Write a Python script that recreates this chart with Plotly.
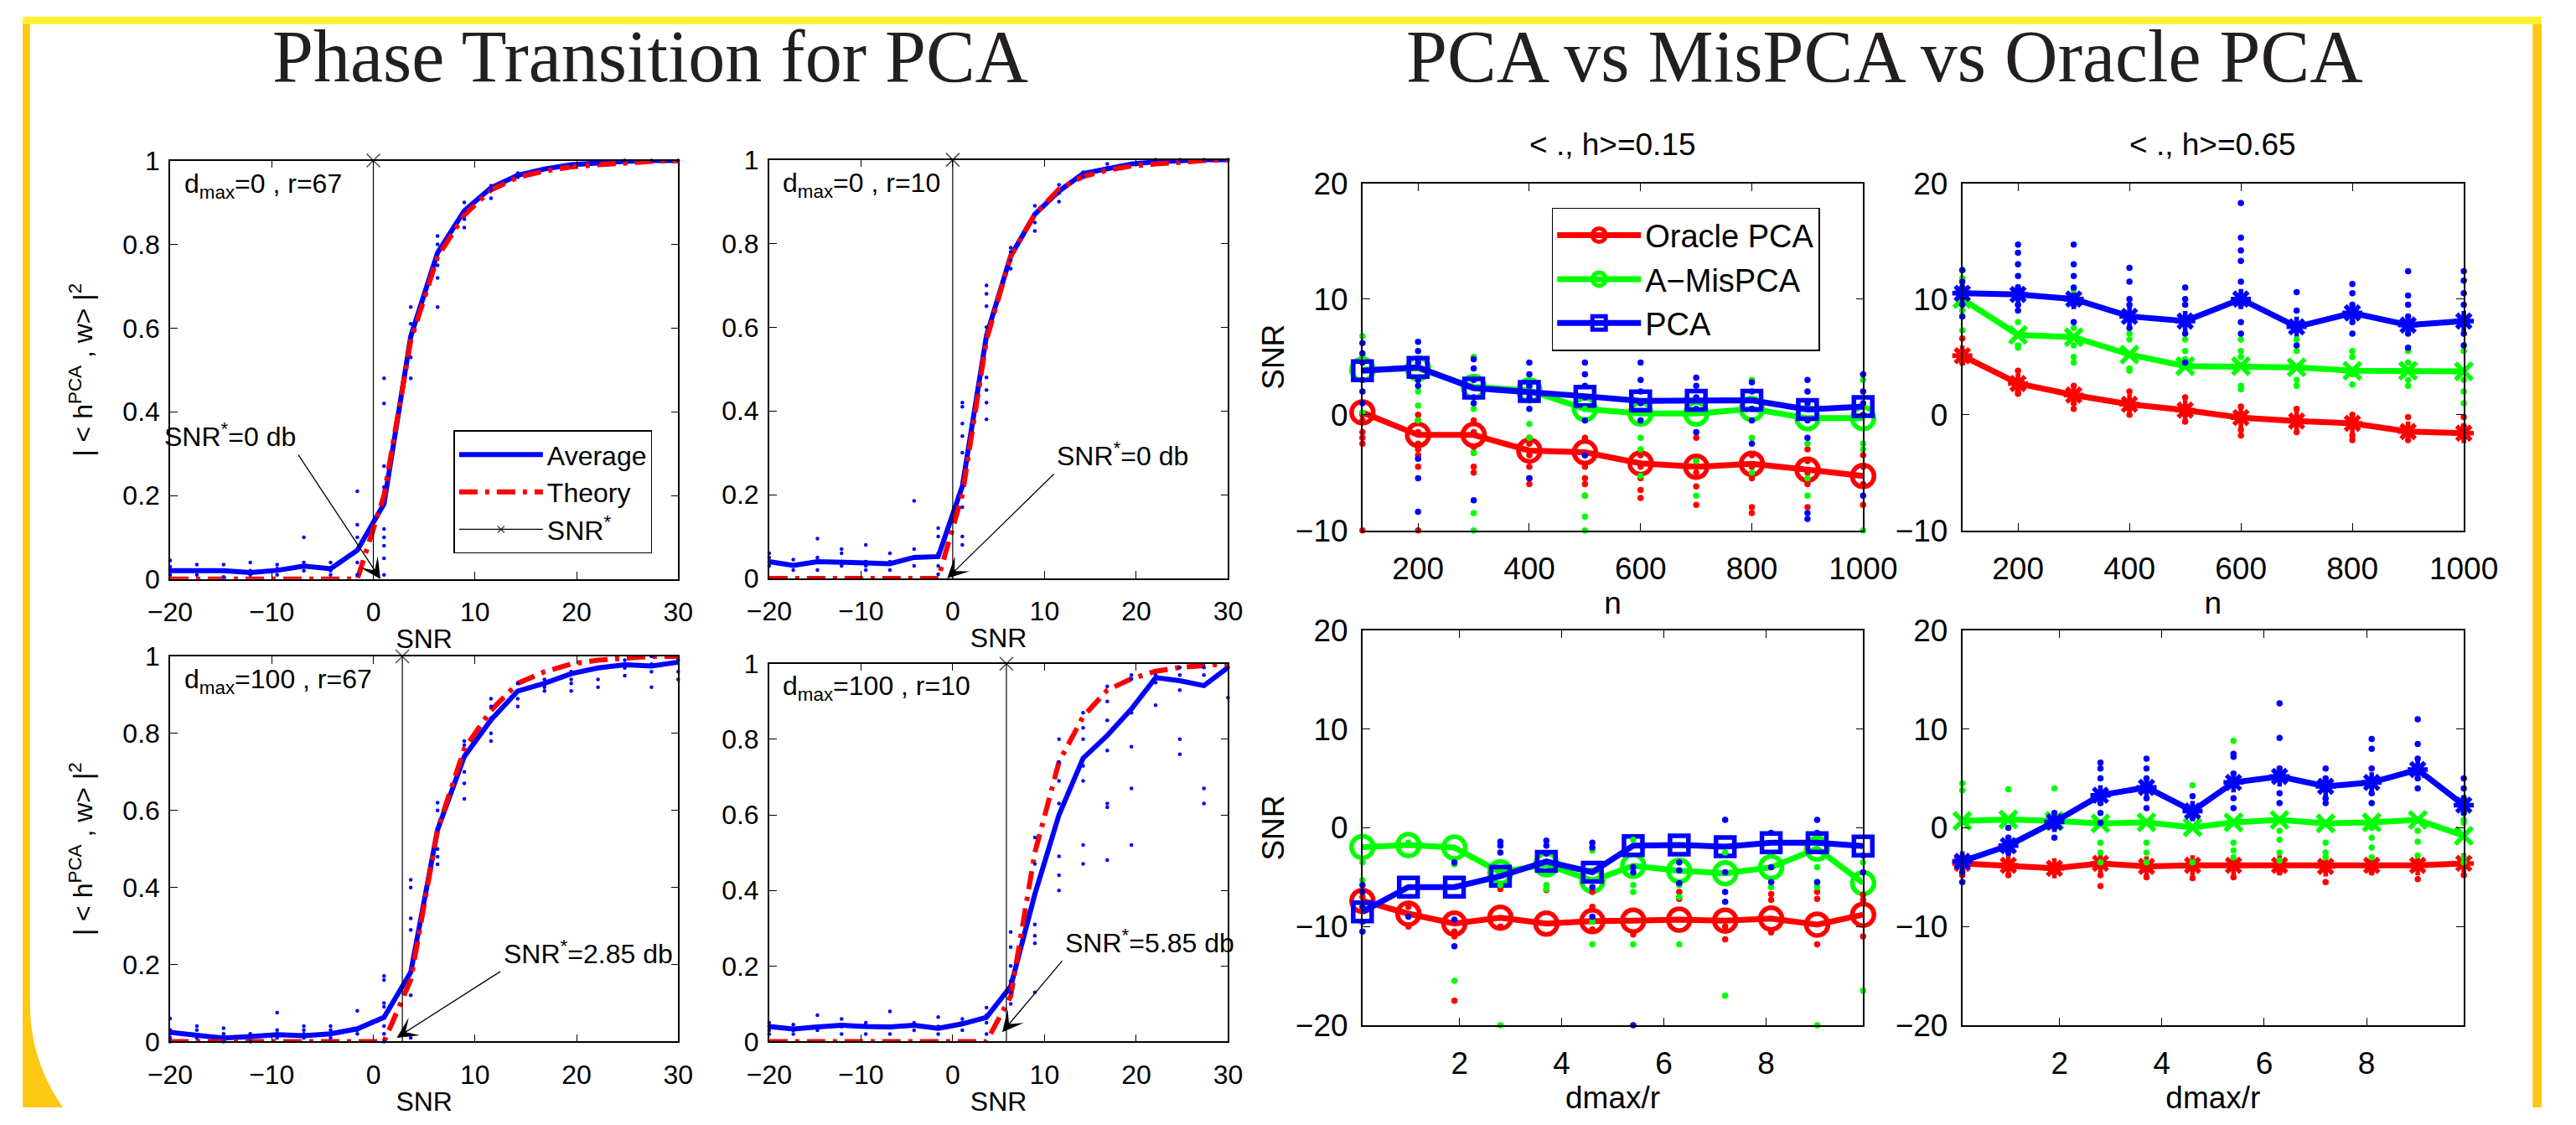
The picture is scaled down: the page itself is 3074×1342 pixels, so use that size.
import math
import plotly.graph_objects as go

W, H = 3074, 1342

# ---------------- data: left block (phase transition) ----------------
snr = [-20.0, -17.37, -14.74, -12.11, -9.47, -6.84, -4.21, -1.58, 1.05, 3.68,
       6.32, 8.95, 11.58, 14.21, 16.84, 19.47, 22.11, 24.74, 27.37, 30.0]

panel_labels = ["d<sub>max</sub>=0 , r=67", "d<sub>max</sub>=0 , r=10",
                "d<sub>max</sub>=100 , r=67", "d<sub>max</sub>=100 , r=10"]
snr_star = [0.0, 0.0, 2.85, 5.85]
snr_star_text = ["SNR<sup>*</sup>=0 db", "SNR<sup>*</sup>=0 db",
                 "SNR<sup>*</sup>=2.85 db", "SNR<sup>*</sup>=5.85 db"]
# arrow tip / tail (data units) of the SNR* call-outs
arrow_tip_x = [0.7, -0.6, 2.3, 5.4]
arrow_tip_y = [0.0, 0.0, 0.01, 0.025]
arrow_tail_x = [-7.46, 11.16, 12.62, 12.05]
arrow_tail_y = [0.30, 0.252, 0.184, 0.217]

avg_d0_r67 = [0.02, 0.02, 0.02, 0.016, 0.021, 0.031, 0.025, 0.069, 0.18, 0.58,
              0.78, 0.88, 0.935, 0.965, 0.98, 0.99, 0.995, 0.998, 1.0, 1.0]
avg_d0_r10 = [0.04, 0.031, 0.04, 0.04, 0.037, 0.035, 0.05, 0.052, 0.22, 0.58,
              0.77, 0.87, 0.925, 0.967, 0.98, 0.99, 0.995, 0.998, 1.0, 1.0]
avg_d100_r67 = [0.024, 0.016, 0.009, 0.013, 0.018, 0.015, 0.02, 0.033, 0.063, 0.18,
                0.55, 0.74, 0.835, 0.91, 0.93, 0.955, 0.97, 0.978, 0.975, 0.985]
avg_d100_r10 = [0.04, 0.033, 0.039, 0.043, 0.04, 0.039, 0.043, 0.035, 0.047, 0.064,
                0.146, 0.39, 0.6, 0.75, 0.81, 0.88, 0.963, 0.955, 0.942, 0.99]

theory_d0 = [0, 0, 0, 0, 0, 0, 0, 0, 0.2, 0.57,
             0.77, 0.87, 0.93, 0.96, 0.975, 0.985, 0.99, 0.995, 0.998, 1.0]
theory_d100_r67 = [0, 0, 0, 0, 0, 0, 0, 0, 0, 0.16,
                   0.55, 0.76, 0.86, 0.93, 0.96, 0.98, 0.99, 0.995, 1.0, 1.0]
theory_d100_r10 = [0, 0, 0, 0, 0, 0, 0, 0, 0, 0,
                   0.12, 0.5, 0.74, 0.86, 0.93, 0.96, 0.98, 0.99, 0.995, 1.0]

trials_d0_r67 = [[0.01, 0.02, 0.03, 0.045], [0.01, 0.02, 0.035], [0.005, 0.02, 0.035],
                 [0.01, 0.02, 0.04], [0.01, 0.025, 0.035], [0.02, 0.03, 0.04, 0.1],
                 [0.01, 0.02, 0.04], [0.01, 0.04, 0.1, 0.13, 0.21],
                 [0.01, 0.05, 0.08, 0.1, 0.12, 0.22, 0.27, 0.42, 0.48],
                 [0.48, 0.53, 0.58, 0.61, 0.65], [0.65, 0.72, 0.75, 0.8, 0.82],
                 [0.84, 0.86, 0.88, 0.9], [0.91, 0.93, 0.94], [0.96, 0.97], [0.98],
                 [0.99], [0.995], [1.0], [1.0], [1.0]]
trials_d0_r10 = [[0.03, 0.04, 0.05, 0.06], [0.02, 0.03, 0.045], [0.02, 0.04, 0.05, 0.095],
                 [0.03, 0.04, 0.06, 0.07], [0.02, 0.03, 0.04, 0.08], [0.02, 0.04, 0.06],
                 [0.03, 0.05, 0.07, 0.185], [0.01, 0.03, 0.06, 0.1, 0.12],
                 [0.08, 0.1, 0.17, 0.22, 0.3, 0.34, 0.37, 0.41, 0.42],
                 [0.38, 0.42, 0.45, 0.48, 0.6, 0.65, 0.68, 0.7], [0.74, 0.76, 0.78, 0.79],
                 [0.83, 0.85, 0.87, 0.89], [0.9, 0.92, 0.94], [0.96, 0.97], [0.98, 0.99],
                 [0.99], [1.0], [1.0], [1.0], [1.0]]
trials_d100_r67 = [[0.0, 0.01, 0.02, 0.03, 0.06], [0.01, 0.03, 0.04], [0.0, 0.01, 0.02, 0.035],
                   [0.0, 0.01, 0.02], [0.01, 0.02, 0.03, 0.075], [0.01, 0.02, 0.03, 0.04],
                   [0.01, 0.02, 0.03, 0.04], [0.02, 0.03, 0.08],
                   [0.0, 0.02, 0.04, 0.09, 0.1, 0.16, 0.17],
                   [0.01, 0.12, 0.18, 0.29, 0.32, 0.4, 0.42],
                   [0.46, 0.48, 0.5, 0.55, 0.6, 0.62], [0.63, 0.67, 0.7, 0.74, 0.77, 0.78],
                   [0.78, 0.8, 0.84, 0.87, 0.89], [0.87, 0.89, 0.91, 0.93], [0.91, 0.92, 0.94],
                   [0.91, 0.93, 0.94, 0.96], [0.92, 0.94, 0.97], [0.95, 0.97, 0.99],
                   [0.92, 0.96, 0.98, 1.0], [0.94, 0.96, 0.99]]
trials_d100_r10 = [[0.02, 0.03, 0.04, 0.05], [0.02, 0.03, 0.045], [0.03, 0.04, 0.07],
                   [0.02, 0.04, 0.06], [0.02, 0.04, 0.05], [0.02, 0.04, 0.08], [0.03, 0.05],
                   [0.02, 0.04, 0.065], [0.03, 0.05, 0.06], [0.02, 0.05, 0.07, 0.09],
                   [0.1, 0.13, 0.16, 0.2, 0.25, 0.29], [0.13, 0.26, 0.28, 0.31, 0.47, 0.54],
                   [0.4, 0.44, 0.49, 0.63, 0.69, 0.74, 0.8],
                   [0.47, 0.52, 0.69, 0.73, 0.8, 0.83, 0.87],
                   [0.48, 0.62, 0.63, 0.77, 0.85, 0.9, 0.94],
                   [0.52, 0.67, 0.78, 0.87, 0.96, 0.97], [0.89, 0.95, 0.97],
                   [0.76, 0.8, 0.93, 0.97, 0.99], [0.63, 0.67, 0.97, 0.99], [0.91, 0.99]]

left_avg = [avg_d0_r67, avg_d0_r10, avg_d100_r67, avg_d100_r10]
left_theory = [theory_d0, theory_d0, theory_d100_r67, theory_d100_r10]
left_trials = [trials_d0_r67, trials_d0_r10, trials_d100_r67, trials_d100_r10]

# ---------------- data: right block (PCA vs MisPCA vs Oracle) ----------------
n_vals = [100, 200, 300, 400, 500, 600, 700, 800, 900, 1000]
dr_vals = [0.1, 1.0, 1.9, 2.8, 3.7, 4.6, 5.4, 6.3, 7.2, 8.1, 9.0, 9.9]
methods = ["Oracle PCA", "A\u2212MisPCA", "PCA"]
h_titles = ["&lt; ., h&gt;=0.15", "&lt; ., h&gt;=0.65"]

oracle_n_h15 = [0.2, -1.75, -1.75, -3.1, -3.25, -4.2, -4.5, -4.25, -4.75, -5.3]
amis_n_h15 = [3.9, 4.0, 2.4, 2.1, 0.5, 0.1, 0.1, 0.5, -0.3, -0.3]
pca_n_h15 = [3.8, 4.1, 2.3, 2.0, 1.6, 1.2, 1.25, 1.25, 0.45, 0.7]

oracle_n_h65 = [5.1, 2.7, 1.7, 0.9, 0.4, -0.25, -0.55, -0.75, -1.45, -1.6]
amis_n_h65 = [10.0, 6.9, 6.7, 5.2, 4.2, 4.2, 4.1, 3.8, 3.8, 3.75]
pca_n_h65 = [10.5, 10.4, 10.0, 8.5, 8.1, 10.0, 7.6, 8.8, 7.75, 8.1]

oracle_dr_h15 = [-7.4, -8.7, -9.7, -9.1, -9.7, -9.45, -9.4, -9.3, -9.4, -9.2, -9.8, -8.8]
amis_dr_h15 = [-1.95, -1.75, -2.0, -4.5, -3.7, -5.35, -3.85, -4.35, -4.6, -4.0, -2.1, -5.6]
pca_dr_h15 = [-8.5, -6.0, -6.0, -4.9, -3.4, -4.5, -1.8, -1.75, -1.9, -1.5, -1.5, -1.85]

oracle_dr_h65 = [-3.6, -3.8, -4.1, -3.6, -3.9, -3.8, -3.8, -3.8, -3.9, -3.8, -3.8, -3.6]
amis_dr_h65 = [0.7, 0.85, 0.7, 0.45, 0.55, 0.05, 0.55, 0.8, 0.45, 0.55, 0.8, -0.8]
pca_dr_h65 = [-3.4, -1.8, 0.6, 3.3, 4.1, 1.7, 4.6, 5.2, 4.2, 4.6, 5.9, 2.3]

oracle_trials_n_h15 = [[0.0, -0.5, -1.5, -2, -2.5, -10], [0, -0.5, -1.5, -2.5, -3, -3.5, -4.5, -10],
                       [-0.5, -1.5, -2.8, -3.3, -4.5, -5], [-2, -2.5, -3.5, -4.5, -5.5, -6],
                       [-2, -3.5, -4.5, -5.5, -6, -7], [-3.5, -4.5, -5.5, -6.5, -7.2],
                       [-2, -4, -5, -6.2, -7.8], [-3.5, -4.5, -5.5, -8, -8.5],
                       [-3, -4, -5, -6, -8], [-3.5, -4.5, -6, -7.8]]
amis_trials_n_h15 = [[6.8, 5, 0.2], [3, 2, 0.8, -0.5], [5, 0.5, -3.3, -8.5, -10], [2.5, -0.8, -2],
                     [0.5, -0.5, -7, -8.8, -10], [-0.5, -2, -3, -5.3], [-1.5, -4, -7],
                     [3, -0.5, -2, -5], [-2.5, -5.5, -7], [3, -2.5, -3, -10]]
pca_trials_n_h15 = [[6.2, 5.3, 4.5, 3, 2, 1], [6.3, 5.5, 4.5, 3, 2.5, -3.8, -5.5, -8.4],
                    [4.8, 4, 3, 1.5, 1, -7.4], [4.5, 3.5, 2.5, 1.5, 0.5, -5.5],
                    [4.5, 3.5, 2.5, 1.5, -0.5, -3.5], [4.5, 3, 2, 1, -0.5],
                    [3.2, 2.5, 1.5, 0.5, -1.5], [2.8, 2, 0.5, -0.5, -2.5],
                    [3, 2, 1, -0.5, -2, -8.5, -9], [3.5, 2, 1, 0, -7]]

oracle_trials_n_h65 = [[6.6, 5.5, 4.5], [3.8, 2, 1.8], [2.5, 1, 0.5], [2, 0.5, 0], [1.5, 0, -0.6],
                       [0.7, -1.3, -1.8], [0.5, -1.5], [0, -1.8, -2.2], [-0.2, -2.2], [-0.2, -1, -2]]
amis_trials_n_h65 = [[12.5, 11.8, 9, 7.3], [9.5, 8, 6, 5.8], [10.8, 7.5, 6, 5, 4.5], [7, 6.5, 4, 3.8],
                     [6.5, 5.5, 4.8], [6.5, 5.5, 5, 2.5, 2.2], [6.5, 5.5, 3, 2.5], [5.5, 5, 3.5, 2.6],
                     [5.5, 4.5, 3, 2.5], [5.5, 3, 2, 1]]
pca_trials_n_h65 = [[12.5, 11.5, 11, 9.5, 8.5], [14.7, 14, 13, 12, 11, 9.5, 9], [14.7, 13, 12, 11, 9.5, 8],
                    [12.7, 11.5, 10, 9.5, 7.5], [11, 10, 9.5, 7, 4.5],
                    [18.3, 15.3, 14.2, 13.3, 11.5, 9.5, 8, 7], [10.6, 9, 6], [11.3, 10.5, 9.5, 8, 7],
                    [12.4, 10.3, 9.5, 8.5, 7, 5.8], [12.4, 11.6, 10.5, 9.5, 7, 6]]

oracle_trials_dr_h15 = [[-7], [-8, -10], [-10.5, -11, -17.5], [-6.2, -10], [-6.3], [-6.5, -8, -10.3],
                        [-10.8], [-6.5, -7.2], [-10, -11.3], [-6.7, -7.3, -10.6], [-6.5, -7.2, -11.8],
                        [-6.8, -7.3, -11]]
amis_trials_dr_h15 = [[-3.5, -5.3], [-1.5], [-3.7, -15.5], [-5.8, -20], [-5.8, -6.2], [-2.3, -9.5, -11.8],
                      [-1.2, -5.8, -6.5, -11.8], [-5.8, -7, -11.8], [-2.5, -17], [-6],
                      [-4, -5.5, -6, -20], [-3.5, -16.5]]
pca_trials_dr_h15 = [[-5.8, -6.5, -8, -9.5, -10.5], [-9], [-3.5, -9.3, -12], [-1.4, -1.8, -2.5],
                     [-1.3, -1.8, -2.6], [-1.5, -2, -6, -9], [-4, -4.5, -20], [-3.5, -4.3, -5.6],
                     [0.8, -4.5, -6.5, -7.5], [-0.5, -4, -5.5], [0.8, -0.5, -5.5], [-2.8, -4.5]]

oracle_trials_dr_h65 = [[-4.8], [-4.8], [-4.5], [-5.9, -4.8], [-5], [-5.1], [-5], [-4.5], [-5.5],
                        [-4.5], [-5.2], [-4.8]]
amis_trials_dr_h65 = [[4.5, 3.8], [3.9], [4], [-3.5, -2.5, -1.5], [-3.5, -2.5, -1.5], [4.3, -3.5],
                      [8.8, -3, -2.3, -1.5], [-3.3, -2.5, -1.2, -0.3], [-3, -2.5, -1.5],
                      [-3, -2, -1, 0], [-2.8, -1.4, -0.3], [0.5, 0.8, -3, -3.5]]
pca_trials_dr_h65 = [[-5.5, -4.5, -3], [-2.5, -1, 0], [-1, 0, 1.5], [0.5, 1.5, 2.5, 5, 6, 6.6],
                     [2, 3, 4, 5, 6, 7], [1, 2, 3.2], [2, 3, 5.5, 7.2, 7.5], [2.5, 3.5, 6, 9.1, 12.6],
                     [2.5, 3, 5, 6], [2.5, 3.5, 6, 8, 9], [4, 5, 7, 8.5, 11], [1.5, 3, 4, 5]]

# ---------------- styling / layout helpers ----------------
RED, GREEN, BLUE = "#FF0000", "#00FF00", "#0000FF"
SANS = "Liberation Sans, Arial, sans-serif"
SERIF = "Liberation Serif, Times New Roman, serif"


def fx(p):
    return p / W


def fy(p):
    return 1 - p / H


def flatten(xs, groups):
    X, Y = [], []
    for xv, g in zip(xs, groups):
        X += [xv] * len(g)
        Y += list(g)
    return X, Y


# axes boxes in pixels: (left, right, top, bottom)
boxes = {
    1: (180, 800, 177, 692), 2: (911, 1471, 176, 691),
    3: (180, 800, 787, 1261), 4: (911, 1471, 796, 1261),
    5: (1635, 2246, 205, 632), 6: (2367, 2979, 205, 632),
    7: (1635, 2246, 755, 1241), 8: (2367, 2979, 755, 1241),
}

fig = go.Figure()


def axname(i, kind):
    return kind if i == 1 else f"{kind}{i}"


# ---- left panels ----
for k in range(4):
    i = k + 1
    xa, ya = axname(i, "x"), axname(i, "y")
    trials_x, trials_y = flatten(snr, left_trials[k])
    fig.add_trace(go.Scatter(x=snr, y=left_avg[k], mode="lines", name="Average",
                             line=dict(color=BLUE, width=6), xaxis=xa, yaxis=ya,
                             showlegend=(k == 0), legend="legend"))
    fig.add_trace(go.Scatter(x=snr, y=left_theory[k], mode="lines", name="Theory",
                             line=dict(color=RED, width=6, dash="22px,9px,5px,9px"),
                             xaxis=xa, yaxis=ya, showlegend=(k == 0), legend="legend"))
    fig.add_trace(go.Scatter(x=[snr_star[k], snr_star[k]], y=[0, 1], mode="lines+markers",
                             name="SNR<sup>*</sup>", line=dict(color="black", width=1.2),
                             marker=dict(symbol="x-thin-open", size=[0, 16], color="black",
                                         line=dict(color="black", width=1.5)),
                             cliponaxis=False, xaxis=xa, yaxis=ya,
                             showlegend=(k == 0), legend="legend"))
    fig.add_trace(go.Scatter(x=trials_x, y=trials_y, mode="markers",
                             marker=dict(color=BLUE, size=4.5), cliponaxis=False,
                             xaxis=xa, yaxis=ya, showlegend=False))

# ---- right panels ----
right_sets = [
    (5, n_vals, [oracle_n_h15, amis_n_h15, pca_n_h15],
     [oracle_trials_n_h15, amis_trials_n_h15, pca_trials_n_h15], "open"),
    (6, n_vals, [oracle_n_h65, amis_n_h65, pca_n_h65],
     [oracle_trials_n_h65, amis_trials_n_h65, pca_trials_n_h65], "star"),
    (7, dr_vals, [oracle_dr_h15, amis_dr_h15, pca_dr_h15],
     [oracle_trials_dr_h15, amis_trials_dr_h15, pca_trials_dr_h15], "open"),
    (8, dr_vals, [oracle_dr_h65, amis_dr_h65, pca_dr_h65],
     [oracle_trials_dr_h65, amis_trials_dr_h65, pca_trials_dr_h65], "star"),
]
colors = [RED, GREEN, BLUE]
for (i, xs, means, trials, style) in right_sets:
    xa, ya = axname(i, "x"), axname(i, "y")
    for m in range(3):
        if style == "open":
            sym = ["circle-open", "circle-open", "square-open"][m]
            msize = [26, 26, 22][m]
        else:
            sym = ["asterisk-open", "x-thin-open", "asterisk-open"][m]
            msize = 20
        fig.add_trace(go.Scatter(x=xs, y=means[m], mode="lines+markers", name=methods[m],
                                 line=dict(color=colors[m], width=7),
                                 marker=dict(symbol=sym, size=msize, color=colors[m],
                                             line=dict(color=colors[m], width=5.5)),
                                 cliponaxis=False, xaxis=xa, yaxis=ya,
                                 showlegend=(i == 5), legend="legend2"))
    for m in range(3):
        tx, ty = flatten(xs, trials[m])
        fig.add_trace(go.Scatter(x=tx, y=ty, mode="markers",
                                 marker=dict(color=colors[m], size=7.5), cliponaxis=False,
                                 xaxis=xa, yaxis=ya, showlegend=False))

# ---------------- axes ----------------
def base_axis(fs):
    return dict(showline=True, linecolor="black", linewidth=1.6, mirror="ticks",
                ticks="inside", ticklen=9, tickwidth=1.3, tickcolor="black",
                showgrid=False, zeroline=False,
                tickfont=dict(family=SANS, size=fs, color="black"))


ylab = "| &lt; h<sup>PCA</sup> , w&gt; |<sup>2</sup>"
layout_axes = {}
for i, (l, r, t, b) in boxes.items():
    xa_key = "xaxis" if i == 1 else f"xaxis{i}"
    ya_key = "yaxis" if i == 1 else f"yaxis{i}"
    anchor_x = "y" if i == 1 else f"y{i}"
    anchor_y = "x" if i == 1 else f"x{i}"
    if i <= 4:
        fs = 32
        xax = base_axis(fs)
        xax.update(domain=[fx(l), fx(r)], anchor=anchor_x, range=[-20, 30],
                   tickvals=[-20, -10, 0, 10, 20, 30], ticklabelstandoff=10,
                   title=dict(text="SNR", font=dict(family=SANS, size=fs, color="black"),
                              standoff=4))
        yax = base_axis(fs)
        yax.update(domain=[fy(b), fy(t)], anchor=anchor_y, range=[0, 1],
                   tickvals=[0, 0.2, 0.4, 0.6, 0.8, 1],
                   ticktext=["0", "0.2", "0.4", "0.6", "0.8", "1"], ticklabelstandoff=4)
        if i in (1, 3):
            yax["title"] = dict(text=ylab, font=dict(family=SANS, size=fs, color="black"),
                                standoff=26)
    else:
        fs = 37
        xax = base_axis(fs)
        yax = base_axis(fs)
        if i in (5, 6):
            xax.update(range=[100, 1000], tickvals=[200, 400, 600, 800, 1000],
                       title=dict(text="n", font=dict(family=SANS, size=fs, color="black"),
                                  standoff=3))
            yax.update(range=[-10, 20], tickvals=[-10, 0, 10, 20])
        else:
            xax.update(range=[0.1, 9.9], tickvals=[2, 4, 6, 8],
                       title=dict(text="dmax/r", font=dict(family=SANS, size=fs, color="black"),
                                  standoff=8))
            yax.update(range=[-20, 20], tickvals=[-20, -10, 0, 10, 20])
        xax.update(domain=[fx(l), fx(r)], anchor=anchor_x, ticklabelstandoff=12)
        yax.update(domain=[fy(b), fy(t)], anchor=anchor_y, ticklabelstandoff=8)
        if i in (5, 7):
            yax["title"] = dict(text="SNR", font=dict(family=SANS, size=fs, color="black"),
                                standoff=2)
    layout_axes[xa_key] = xax
    layout_axes[ya_key] = yax

fig.update_layout(**layout_axes)

# ---------------- annotations ----------------
ann = []
ann.append(dict(text="Phase Transition for PCA", x=fx(766), y=fy(49), xref="paper", yref="paper",
                showarrow=False, xanchor="center", yanchor="middle",
                font=dict(family=SERIF, size=88, color="#231F20")))
ann.append(dict(text="PCA vs MisPCA vs Oracle PCA", x=fx(2272), y=fy(49), xref="paper",
                yref="paper", showarrow=False, xanchor="center", yanchor="middle",
                font=dict(family=SERIF, size=88, color="#231F20")))
for k in range(4):
    i = k + 1
    xa, ya = axname(i, "x"), axname(i, "y")
    ann.append(dict(text=panel_labels[k], x=0.025, y=0.985, xref=f"{xa} domain",
                    yref=f"{ya} domain", showarrow=False, xanchor="left", yanchor="top",
                    font=dict(family=SANS, size=32, color="black")))
    ann.append(dict(text="", x=arrow_tip_x[k], y=arrow_tip_y[k], xref=xa, yref=ya,
                    ax=arrow_tail_x[k], ay=arrow_tail_y[k], axref=xa, ayref=ya,
                    showarrow=True, arrowhead=3, arrowsize=3.2, arrowwidth=1.3,
                    arrowcolor="black"))
    ann.append(dict(text=snr_star_text[k], x=arrow_tail_x[k], y=arrow_tail_y[k], xref=xa,
                    yref=ya, showarrow=False, xanchor="right" if k == 0 else "left",
                    yanchor="bottom", font=dict(family=SANS, size=32, color="black")))
for j, i in enumerate((5, 6)):
    ann.append(dict(text=h_titles[j], x=0.5, y=1, xref=f"x{i} domain", yref=f"y{i} domain",
                    yshift=46, showarrow=False, xanchor="center", yanchor="middle",
                    font=dict(family=SANS, size=37, color="black")))

# ---------------- slide frame (decoration) ----------------
TOP_YEL, SIDE_YEL = "#FFF22C", "#FFC814"
shapes = [
    dict(type="rect", xref="paper", yref="paper", x0=0, x1=1, y0=fy(9), y1=1,
         fillcolor=TOP_YEL, line=dict(width=0), layer="above"),
    dict(type="rect", xref="paper", yref="paper", x0=0, x1=fx(9), y0=0, y1=fy(9),
         fillcolor=SIDE_YEL, line=dict(width=0), layer="above"),
    dict(type="rect", xref="paper", yref="paper", x0=fx(3063), x1=1, y0=0, y1=fy(9),
         fillcolor=SIDE_YEL, line=dict(width=0), layer="above"),
]
cx, cy, R = 230.0, 1215.0, 221.0
pts = []
for s in range(13):
    yy = cy + (H - cy) * s / 12
    xx = cx - math.sqrt(max(R * R - (yy - cy) ** 2, 0))
    pts.append((xx, yy))
path = f"M 0,{fy(cy)} " + " ".join(f"L {fx(px)},{fy(py)}" for px, py in pts) + f" L 0,{fy(H)} Z"
shapes.append(dict(type="path", xref="paper", yref="paper", path=path, fillcolor=SIDE_YEL,
                   line=dict(width=0), layer="above"))

fig.update_layout(
    width=W, height=H, margin=dict(l=0, r=0, t=0, b=0, pad=0),
    paper_bgcolor="white", plot_bgcolor="white",
    annotations=ann, shapes=shapes,
    legend=dict(x=fx(526), y=fy(509), xanchor="left", yanchor="top", bgcolor="white",
                bordercolor="black", borderwidth=1.5, itemwidth=100,
                font=dict(family=SANS, size=32, color="black"), tracegroupgap=0),
    legend2=dict(x=fx(1866), y=fy(235), xanchor="left", yanchor="top", bgcolor="white",
                 bordercolor="black", borderwidth=1.5, itemwidth=100,
                 font=dict(family=SANS, size=38, color="black"), tracegroupgap=0),
)

fig.write_html("out.html")
